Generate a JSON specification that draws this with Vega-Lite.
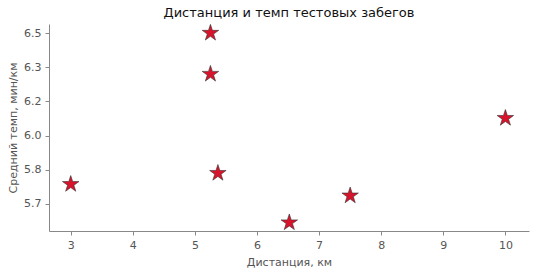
{
  "$schema": "https://vega.github.io/schema/vega-lite/v6.json",
  "autosize": {"type": "none"},
  "width": 480,
  "height": 207,
  "padding": {"left": 49, "top": 24, "right": 8, "bottom": 42},
  "background": "white",
  "title": {
    "text": "Дистанция и темп тестовых забегов",
    "font": "DejaVu Sans",
    "fontSize": 13,
    "fontWeight": "normal",
    "color": "#111111",
    "offset": 3
  },
  "data": {
    "values": [
      {"distance": 3.0, "pace": 5.763},
      {"distance": 5.25, "pace": 6.5},
      {"distance": 5.25, "pace": 6.3},
      {"distance": 5.37, "pace": 5.817},
      {"distance": 6.52, "pace": 5.576},
      {"distance": 7.5, "pace": 5.707},
      {"distance": 10.0, "pace": 6.085}
    ]
  },
  "mark": {
    "type": "point",
    "shape": "M0,-1 L0.2245,-0.309 L0.9511,-0.309 L0.3633,0.118 L0.5878,0.809 L0,0.382 L-0.5878,0.809 L-0.3633,0.118 L-0.9511,-0.309 L-0.2245,-0.309 Z",
    "filled": true,
    "fill": "#d7142b",
    "stroke": "#333333",
    "strokeWidth": 0.6,
    "size": 300,
    "opacity": 1
  },
  "encoding": {
    "x": {
      "field": "distance",
      "type": "quantitative",
      "scale": {"domain": [2.65, 10.38], "nice": false, "zero": false},
      "axis": {"values": [3, 4, 5, 6, 7, 8, 9, 10], "title": "Дистанция, км"}
    },
    "y": {
      "field": "pace",
      "type": "quantitative",
      "scale": {"domain": [5.535, 6.544], "nice": false, "zero": false},
      "axis": {
        "values": [5.6667, 5.8333, 6.0, 6.1667, 6.3333, 6.5],
        "format": ".1f",
        "title": "Средний темп, мин/км"
      }
    }
  },
  "config": {
    "view": {"stroke": null},
    "font": "DejaVu Sans",
    "axis": {
      "grid": false,
      "domainColor": "#888888",
      "domainWidth": 1,
      "tickColor": "#888888",
      "tickSize": 4,
      "labelFont": "DejaVu Sans",
      "labelFontSize": 11,
      "labelColor": "#555555",
      "labelPadding": 4,
      "titleFont": "DejaVu Sans",
      "titleFontSize": 11,
      "titleFontWeight": "normal",
      "titleColor": "#555555"
    },
    "axisX": {"titlePadding": 6},
    "axisY": {"titlePadding": 5}
  }
}
